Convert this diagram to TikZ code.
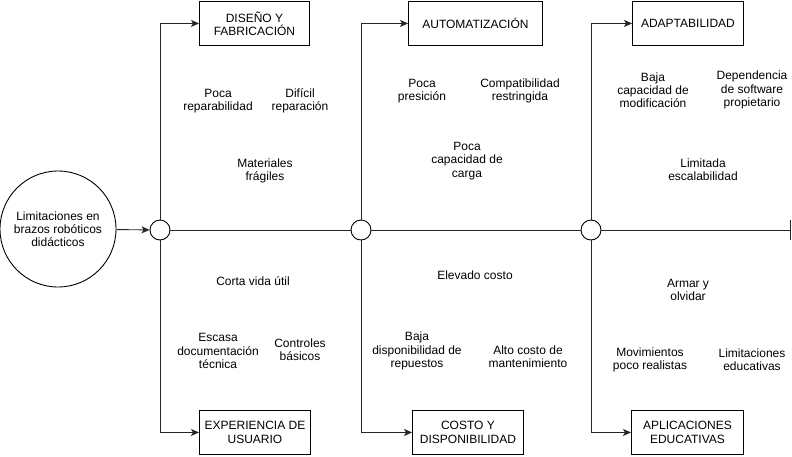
\documentclass[tikz,border=0pt]{standalone}
\usepackage{fontspec}
\setmainfont{Liberation Sans}
\usetikzlibrary{arrows.meta}
\begin{document}
\begin{tikzpicture}[x=1pt,y=-1pt,
  every node/.style={font=\fontsize{12}{13.2}\selectfont, inner sep=0pt},
  lbl/.style={align=center},
  catbox/.style={draw, line width=0.9pt, align=center, anchor=north west},
  junc/.style={draw, circle, line width=0.9pt, minimum size=20pt, fill=white},
  conn/.style={line width=0.9pt, draw=black!85},
  arr/.style={conn, -{Stealth[length=8pt,width=7pt,inset=2pt]}}]
\useasboundingbox (0,0) rectangle (792,456);
% main problem
\node[draw, circle, line width=0.9pt, minimum size=116pt, align=center] (prob) at (58,229)
  {Limitaciones en\\brazos robóticos\\didácticos};
% junctions
\node[junc] (j1) at (160,230) {};
\node[junc] (j2) at (361,230) {};
\node[junc] (j3) at (591,230) {};
\coordinate (endp) at (790,230);
% boxes
\node[catbox, minimum width=110pt, minimum height=44pt] (b1) at (199,1) {DISEÑO Y\\FABRICACIÓN};
\node[catbox, minimum width=111pt, minimum height=44pt] (b2) at (199,410) {EXPERIENCIA DE\\USUARIO};
\node[catbox, minimum width=134pt, minimum height=44pt] (b3) at (408,1) {AUTOMATIZACIÓN};
\node[catbox, minimum width=111pt, minimum height=44pt] (b4) at (412,410) {COSTO Y\\DISPONIBILIDAD};
\node[catbox, minimum width=111pt, minimum height=44pt] (b5) at (632,1) {ADAPTABILIDAD};
\node[catbox, minimum width=112pt, minimum height=44pt] (b6) at (631,410) {APLICACIONES\\EDUCATIVAS};
% spine
\draw[arr] (prob) -- (j1);
\draw[conn] (j1) -- (j2);
\draw[conn] (j2) -- (j3);
\draw[conn] (j3) -- (endp);
\draw[conn] ([yshift=-10pt]endp) -- ([yshift=10pt]endp);
% branches
\draw[arr] (j1.north) |- (b1.west);
\draw[arr] (j1.south) |- (b2.west);
\draw[arr] (j2.north) |- (b3.west);
\draw[arr] (j2.south) |- (b4.west);
\draw[arr] (j3.north) |- (b5.west);
\draw[arr] (j3.south) |- (b6.west);
% causes
\node[lbl] (c1) at (218,101) {Poca\\reparabilidad};
\node[lbl] (c2) at (300,101) {Difícil\\reparación};
\node[lbl] (c3) at (265,171) {Materiales\\frágiles};
\node[lbl] (c4) at (422,91) {Poca\\presición};
\node[lbl] (c5) at (520,91) {Compatibilidad\\restringida};
\node[lbl] (c6) at (467,161) {Poca\\capacidad de\\carga};
\node[lbl] (c7) at (653,90) {Baja\\capacidad de\\modificación};
\node[lbl] (c8) at (752,90) {Dependencia\\de software\\propietario};
\node[lbl] (c9) at (703,170) {Limitada\\escalabilidad};
\node[lbl] (c10) at (253,281) {Corta vida útil};
\node[lbl] (c11) at (218,351) {Escasa\\documentación\\técnica};
\node[lbl] (c12) at (300,350) {Controles\\básicos};
\node[lbl] (c13) at (475,275) {Elevado costo};
\node[lbl] (c14) at (417,351) {Baja\\disponibilidad de\\repuestos};
\node[lbl] (c15) at (528,357) {Alto costo de\\mantenimiento};
\node[lbl] (c16) at (688,290) {Armar y\\olvidar};
\node[lbl] (c17) at (650,360) {Movimientos\\poco realistas};
\node[lbl] (c18) at (752,360) {Limitaciones\\educativas};
\end{tikzpicture}
\end{document}
